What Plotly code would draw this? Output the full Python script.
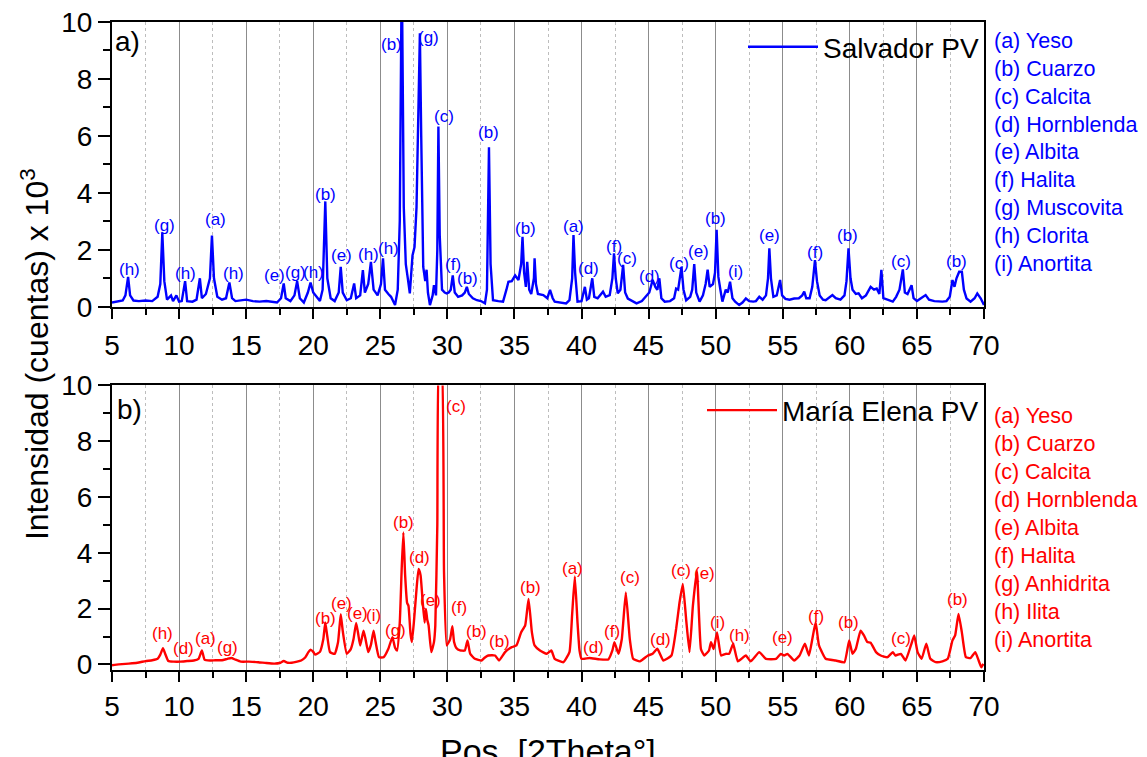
import plotly.graph_objects as go

# ---------------- data ----------------
salvador_x = [5.0, 5.4, 5.8, 6.0, 6.2, 6.35, 6.6, 7.0, 7.5, 8.0, 8.4, 8.6, 8.75, 8.9, 9.1, 9.4, 9.55, 9.8, 10.0, 10.2,
              10.45, 10.6, 11.0, 11.3, 11.55, 11.7, 12.0, 12.3, 12.45, 12.6, 12.85, 13.2, 13.5, 13.75, 13.95, 14.2, 14.5, 15.0, 15.5, 16.0,
              16.5, 17.0, 17.3, 17.6, 17.8, 17.95, 18.3, 18.6, 18.8, 19.0, 19.3, 19.6, 19.8, 20.0, 20.3, 20.5, 20.7, 20.9, 21.05, 21.3,
              21.6, 21.9, 22.05, 22.2, 22.5, 22.8, 23.05, 23.2, 23.5, 23.7, 23.85, 24.1, 24.3, 24.5, 24.8, 25.05, 25.2, 25.35, 25.6, 25.8,
              26.1, 26.3, 26.45, 26.6, 26.75, 26.9, 27.05, 27.2, 27.4, 27.55, 27.7, 27.85, 27.95, 28.05, 28.2, 28.35, 28.45, 28.55, 28.7, 28.9,
              29.0, 29.15, 29.25, 29.33, 29.43, 29.6, 29.8, 29.95, 30.1, 30.25, 30.4, 30.55, 30.8, 31.1, 31.3, 31.45, 31.6, 31.9, 32.2, 32.5,
              32.8, 32.95, 33.1, 33.22, 33.4, 33.8, 34.15, 34.4, 34.55, 34.8, 35.05, 35.3, 35.5, 35.6, 35.72, 35.85, 35.95, 36.1, 36.25, 36.45,
              36.5, 36.6, 36.75, 37.15, 37.45, 37.65, 37.85, 38.0, 38.4, 38.85, 39.1, 39.3, 39.4, 39.52, 39.7, 40.0, 40.25, 40.4, 40.55, 40.8,
              40.95, 41.2, 41.6, 41.8, 42.1, 42.3, 42.42, 42.55, 42.7, 42.9, 43.1, 43.25, 43.45, 43.8, 44.1, 44.5, 44.8, 45.05, 45.3, 45.5,
              45.65, 45.8, 45.95, 46.2, 46.6, 46.9, 47.05, 47.2, 47.45, 47.6, 47.8, 48.1, 48.25, 48.4, 48.55, 48.8, 49.05, 49.25, 49.4, 49.55,
              49.8, 49.95, 50.07, 50.2, 50.35, 50.5, 50.75, 50.9, 51.07, 51.25, 51.45, 51.75, 52.0, 52.25, 52.5, 52.8, 53.0, 53.25, 53.5, 53.75,
              53.9, 54.0, 54.12, 54.3, 54.55, 54.8, 54.95, 55.2, 55.5, 55.85, 56.2, 56.45, 56.6, 56.75, 57.0, 57.2, 57.4, 57.55, 57.75, 58.0,
              58.2, 58.5, 58.7, 58.95, 59.3, 59.6, 59.75, 59.9, 60.05, 60.2, 60.45, 60.65, 60.9, 61.2, 61.55, 61.8, 62.0, 62.2, 62.35, 62.5,
              62.8, 63.2, 63.45, 63.7, 63.95, 64.1, 64.3, 64.5, 64.6, 64.75, 65.0, 65.3, 65.65, 65.9, 66.3, 66.9, 67.2, 67.45, 67.65, 67.8,
              67.95, 68.15, 68.35, 68.5, 68.7, 69.0, 69.3, 69.5, 69.75, 70.0]
salvador_y = [0.15, 0.18, 0.22, 0.4, 1.05, 0.4, 0.22, 0.2, 0.22, 0.2, 0.35, 0.8, 2.6, 0.9, 0.25, 0.4, 0.2, 0.4, 0.18, 0.2,
              0.9, 0.2, 0.18, 0.25, 1.0, 0.3, 0.45, 1.0, 2.5, 1.0, 0.35, 0.25, 0.3, 0.85, 0.3, 0.2, 0.22, 0.25, 0.2, 0.18,
              0.2, 0.18, 0.15, 0.3, 0.82, 0.3, 0.2, 0.4, 0.9, 0.3, 0.15, 0.5, 0.85, 0.5, 0.3, 0.2, 0.6, 3.7, 1.0, 0.3,
              0.2, 0.5, 1.4, 0.5, 0.23, 0.3, 0.82, 0.3, 0.4, 1.29, 0.5, 0.8, 1.58, 0.6, 0.4, 0.8, 1.7, 0.6, 0.45, 0.35,
              0.06, 0.6, 3.0, 12.0, 3.5, 1.5, 1.0, 0.47, 1.8, 2.1, 3.5, 8.0, 9.6, 6.0, 1.4, 0.9, 1.3, 0.5, 0.06, 0.4,
              0.76, 0.4, 2.0, 6.33, 2.5, 0.6, 0.5, 0.47, 0.5, 0.6, 1.1, 0.5, 0.35, 0.4, 0.5, 0.7, 0.45, 0.3, 0.23, 0.2,
              0.12, 0.6, 5.6, 1.5, 0.23, 0.2, 0.18, 0.6, 0.88, 0.9, 1.1, 0.94, 1.5, 2.46, 1.2, 0.7, 1.58, 0.6, 0.45, 1.0,
              1.7, 0.8, 0.45, 0.41, 0.3, 0.59, 0.3, 0.18, 0.15, 0.12, 0.23, 1.0, 2.52, 1.2, 0.18, 0.2, 0.7, 0.25, 0.3, 1.0,
              0.35, 0.3, 0.53, 0.35, 0.41, 1.0, 1.88, 1.0, 0.47, 0.6, 1.47, 0.5, 0.29, 0.2, 0.12, 0.2, 0.35, 0.5, 0.94, 0.7,
              0.6, 1.0, 0.3, 0.18, 0.2, 0.3, 0.64, 0.6, 1.4, 0.6, 0.23, 0.35, 0.6, 1.5, 0.5, 0.18, 0.4, 0.8, 1.3, 0.7,
              0.8, 1.2, 2.7, 1.05, 0.6, 0.18, 0.6, 0.5, 0.88, 0.3, 0.18, 0.06, 0.15, 0.29, 0.2, 0.18, 0.2, 0.35, 0.25, 0.4,
              1.0, 2.05, 1.0, 0.35, 0.4, 0.94, 0.4, 0.28, 0.25, 0.29, 0.3, 0.4, 0.53, 0.3, 0.3, 0.7, 1.64, 0.9, 0.4, 0.25,
              0.23, 0.35, 0.41, 0.3, 0.25, 0.4, 0.9, 2.05, 1.0, 0.6, 0.45, 0.47, 0.3, 0.4, 0.7, 0.6, 0.64, 0.45, 1.3, 0.3,
              0.25, 0.18, 0.35, 0.6, 1.31, 0.5, 0.45, 0.7, 0.76, 0.3, 0.2, 0.3, 0.41, 0.25, 0.2, 0.18, 0.2, 0.35, 0.94, 0.7,
              1.0, 1.23, 1.23, 0.6, 0.29, 0.18, 0.3, 0.47, 0.3, 0.06]

maria_x = [5.0, 5.5, 6.0, 6.5, 7.0, 7.5, 8.0, 8.4, 8.6, 8.8, 8.95, 9.2, 9.6, 10.1, 10.6, 11.1, 11.45, 11.7, 11.9, 12.3,
           12.7, 13.2, 13.6, 13.9, 14.2, 14.6, 15.2, 15.9, 16.5, 17.1, 17.5, 17.8, 18.1, 18.4, 18.8, 19.1, 19.4, 19.65, 19.8, 20.0,
           20.15, 20.5, 20.75, 20.9, 21.05, 21.25, 21.6, 21.85, 22.05, 22.2, 22.5, 22.8, 23.0, 23.2, 23.35, 23.5, 23.75, 23.9, 24.1, 24.3,
           24.5, 24.65, 24.9, 25.25, 25.6, 25.9, 26.1, 26.25, 26.45, 26.6, 26.72, 26.85, 27.0, 27.1, 27.25, 27.35, 27.5, 27.7, 27.85, 28.0,
           28.15, 28.3, 28.4, 28.5, 28.6, 28.8, 29.0, 29.1, 29.25, 29.4, 29.55, 29.75, 29.95, 30.2, 30.37, 30.5, 30.65, 30.95, 31.3, 31.5,
           31.7, 32.05, 32.55, 32.8, 33.05, 33.55, 33.85, 34.3, 34.8, 35.15, 35.5, 35.8, 36.05, 36.3, 36.5, 36.9, 37.4, 37.75, 38.0, 38.65,
           39.1, 39.3, 39.5, 39.7, 39.85, 40.0, 40.6, 41.35, 42.0, 42.3, 42.45, 42.75, 43.0, 43.3, 43.6, 43.85, 44.35, 44.95, 45.3, 45.65,
           46.1, 46.7, 47.05, 47.3, 47.55, 47.8, 48.05, 48.3, 48.6, 48.9, 49.15, 49.5, 49.65, 49.85, 50.1, 50.4, 50.75, 51.0, 51.3, 51.65,
           52.25, 52.6, 53.25, 53.75, 54.5, 54.85, 55.1, 55.35, 55.85, 56.25, 56.65, 56.95, 57.2, 57.45, 57.7, 58.2, 58.95, 59.6, 59.95, 60.2,
           60.45, 60.8, 61.05, 61.3, 61.55, 61.95, 62.3, 62.8, 63.2, 63.4, 63.8, 64.15, 64.55, 64.8, 65.05, 65.35, 65.7, 66.0, 66.4, 66.9,
           67.3, 67.65, 67.85, 68.1, 68.35, 68.65, 69.0, 69.35, 69.6, 69.8, 69.95]
maria_y = [-0.03, 0.0, 0.02, 0.04, 0.07, 0.12, 0.15, 0.2, 0.35, 0.58, 0.4, 0.12, 0.1, 0.1, 0.12, 0.14, 0.2, 0.5, 0.17, 0.14,
           0.15, 0.15, 0.2, 0.23, 0.17, 0.1, 0.1, 0.08, 0.05, 0.03, 0.05, 0.12, 0.06, 0.06, 0.1, 0.14, 0.25, 0.45, 0.53, 0.45,
           0.35, 0.45, 0.9, 1.5, 1.0, 0.44, 0.38, 0.8, 1.8, 1.2, 0.38, 0.55, 0.9, 1.49, 1.1, 0.68, 1.21, 0.9, 0.44, 0.7,
           1.21, 0.8, 0.26, 0.26, 0.56, 0.98, 0.6, 0.5, 1.5, 3.5, 4.73, 3.2, 2.2, 2.1, 1.1, 0.8, 1.5, 2.7, 3.42, 3.2,
           2.3, 1.5, 1.99, 1.6, 1.4, 0.44, 0.8, 1.39, 5.0, 11.0, 11.0, 3.3, 0.68, 0.9, 1.37, 0.8, 0.6, 0.5, 0.5, 0.86,
           0.38, 0.2, 0.14, 0.25, 0.32, 0.32, 0.14, 0.44, 0.62, 0.68, 1.15, 1.4, 2.35, 1.15, 0.68, 0.5, 0.38, 0.5, 0.2, 0.08,
           0.44, 1.8, 3.15, 1.5, 0.5, 0.2, 0.23, 0.18, 0.18, 0.5, 0.8, 0.38, 0.9, 2.58, 0.9, 0.2, 0.11, 0.32, 0.38, 0.56,
           0.14, 0.32, 1.27, 2.2, 2.88, 1.6, 0.44, 2.1, 3.35, 0.55, 0.32, 0.5, 0.8, 0.55, 1.15, 0.32, 0.38, 0.38, 0.74, 0.11,
           0.32, 0.11, 0.44, 0.2, 0.2, 0.38, 0.32, 0.38, 0.14, 0.32, 0.74, 0.32, 0.9, 1.51, 0.68, 0.2, 0.14, 0.08, 0.86, 0.38,
           0.56, 1.21, 1.04, 0.8, 0.78, 0.44, 0.32, 0.26, 0.44, 0.32, 0.38, 0.14, 0.68, 1.04, 0.44, 0.2, 0.74, 0.2, 0.08, 0.11,
           0.2, 0.86, 1.04, 1.81, 1.15, 0.26, 0.23, 0.44, 0.14, -0.1, 0.02]

top_label_x = [6.33, 8.88, 10.5, 12.7, 14.05, 17.1, 18.7, 20.0, 20.9, 22.1, 24.1, 25.6, 25.8, 28.6, 29.75, 30.45, 31.5, 33.1,
               35.85, 39.4, 40.5, 42.45, 43.4, 45.1, 47.3, 48.7, 50.0, 51.45, 54.0, 57.4, 59.8, 63.8, 67.95]
top_label_y = [1.31, 2.87, 1.17, 3.05, 1.17, 1.11, 1.2, 1.2, 3.95, 1.79, 1.85, 2.05, 9.2, 9.44, 6.68, 1.47, 1.0, 6.12,
               2.75, 2.81, 1.35, 2.13, 1.7, 1.08, 1.52, 1.95, 3.1, 1.23, 2.52, 1.91, 2.52, 1.58, 1.58]
top_label_t = ['(h)', '(g)', '(h)', '(a)', '(h)', '(e)', '(g)', '(h)', '(b)', '(e)', '(h)', '(h)', '(b)', '(g)', '(c)', '(f)', '(b)', '(b)',
               '(b)', '(a)', '(d)', '(f)', '(c)', '(d)', '(c)', '(e)', '(b)', '(i)', '(e)', '(f)', '(b)', '(c)', '(b)']

bot_label_x = [8.75, 10.3, 11.95, 13.6, 20.9, 22.1, 23.3, 24.5, 26.1, 26.75, 27.95, 28.75, 30.65, 30.9, 32.2, 33.9, 36.2,
               39.35, 40.9, 42.25, 43.6, 45.85, 47.45, 49.2, 50.1, 51.75, 55.0, 57.5, 59.9, 63.8, 68.0]
bot_label_y = [1.1, 0.58, 0.92, 0.62, 1.63, 2.17, 1.81, 1.75, 1.21, 5.08, 3.83, 2.29, 9.25, 2.05, 1.18, 0.82, 2.76,
               3.42, 0.62, 1.18, 3.12, 0.88, 3.36, 3.26, 1.51, 1.04, 0.98, 1.71, 1.51, 0.94, 2.31]
bot_label_t = ['(h)', '(d)', '(a)', '(g)', '(b)', '(e)', '(e)', '(i)', '(g)', '(b)', '(d)', '(e)', '(c)', '(f)', '(b)', '(b)', '(b)',
               '(a)', '(d)', '(f)', '(c)', '(d)', '(c)', '(e)', '(i)', '(h)', '(e)', '(f)', '(b)', '(c)', '(b)']

top_phases = ['(a) Yeso', '(b) Cuarzo', '(c) Calcita', '(d) Hornblenda', '(e) Albita', '(f) Halita',
              '(g) Muscovita', '(h) Clorita', '(i) Anortita']
bot_phases = ['(a) Yeso', '(b) Cuarzo', '(c) Calcita', '(d) Hornblenda', '(e) Albita', '(f) Halita',
              '(g) Anhidrita', '(h) Ilita', '(i) Anortita']

x_ticks = [5, 10, 15, 20, 25, 30, 35, 40, 45, 50, 55, 60, 65, 70]
y_ticks = [0, 2, 4, 6, 8, 10]

# ---------------- layout geometry (pixels) ----------------
W, H = 1147, 757
L, R = 111.7, 984.5
T, B = 22.0, 670.5
TOP_BOTTOM_PX = 307.0
BOT_TOP_PX = 385.7


def px2x(px):
    return (px - L) / (R - L)


def py2y(py):
    return (B - py) / (B - T)


FONT = 'Liberation Sans, Arial, sans-serif'
BLUE = '#0000FF'
RED = '#FF0000'

fig = go.Figure()
fig.add_trace(go.Scatter(x=salvador_x, y=salvador_y, mode='lines', name='Salvador PV',
                         line=dict(color=BLUE, width=2.4), xaxis='x', yaxis='y', legend='legend'))
fig.add_trace(go.Scatter(x=maria_x, y=maria_y, mode='lines', name='María Elena PV',
                         line=dict(color=RED, width=2.4, shape='spline', smoothing=0.4),
                         xaxis='x2', yaxis='y2', legend='legend2'))


def xaxis_cfg(anchor, standoff):
    return dict(range=[5, 70], tickvals=x_ticks, ticktext=[str(v) for v in x_ticks],
                anchor=anchor, domain=[0, 1], showline=True, linecolor='black', linewidth=2, mirror=True,
                ticks='outside', ticklen=10, tickwidth=2, tickcolor='black',
                tickfont=dict(family=FONT, size=28, color='black'), ticklabelstandoff=standoff,
                showgrid=True, gridcolor='#8c8c8c', gridwidth=1, zeroline=False,
                minor=dict(dtick=2.5, tick0=5, ticks='outside', ticklen=6, tickwidth=2, tickcolor='black',
                           showgrid=True, gridcolor='#bdbdbd', gridwidth=1, griddash='3px,3px'))


def yaxis_cfg(anchor, rng, domain):
    return dict(range=rng, tickvals=y_ticks, ticktext=[str(v) for v in y_ticks], anchor=anchor, domain=domain,
                showline=True, linecolor='black', linewidth=2, mirror=True,
                ticks='outside', ticklen=12, tickwidth=2, tickcolor='black',
                tickfont=dict(family=FONT, size=28, color='black'),
                showgrid=False, zeroline=False,
                minor=dict(dtick=1, tick0=0, ticks='outside', ticklen=7, tickwidth=2, tickcolor='black', showgrid=False))


annotations = []
for xv, yv, t in zip(top_label_x, top_label_y, top_label_t):
    annotations.append(dict(x=xv, y=yv, xref='x', yref='y', text=t, showarrow=False,
                            font=dict(family=FONT, size=17, color=BLUE), xanchor='center', yanchor='middle'))
for xv, yv, t in zip(bot_label_x, bot_label_y, bot_label_t):
    annotations.append(dict(x=xv, y=yv, xref='x2', yref='y2', text=t, showarrow=False,
                            font=dict(family=FONT, size=17, color=RED), xanchor='center', yanchor='middle'))
for i, t in enumerate(top_phases):
    annotations.append(dict(x=px2x(993), y=py2y(41 + i * 27.9), xref='paper', yref='paper', text=t, showarrow=False,
                            font=dict(family=FONT, size=21.5, color=BLUE), xanchor='left', yanchor='middle'))
for i, t in enumerate(bot_phases):
    annotations.append(dict(x=px2x(993), y=py2y(416 + i * 28.0), xref='paper', yref='paper', text=t, showarrow=False,
                            font=dict(family=FONT, size=21.5, color=RED), xanchor='left', yanchor='middle'))
annotations.append(dict(x=px2x(113), y=py2y(42), xref='paper', yref='paper', text='a)', showarrow=False,
                        font=dict(family=FONT, size=28, color='black'), xanchor='left', yanchor='middle'))
annotations.append(dict(x=px2x(115), y=py2y(410), xref='paper', yref='paper', text='b)', showarrow=False,
                        font=dict(family=FONT, size=28, color='black'), xanchor='left', yanchor='middle'))
annotations.append(dict(x=px2x(34), y=py2y(354), xref='paper', yref='paper',
                        text='Intensidad (cuentas) x 10<sup>3</sup>', textangle=-90, showarrow=False,
                        font=dict(family=FONT, size=32, color='black'), xanchor='center', yanchor='middle'))
annotations.append(dict(x=px2x(548), y=py2y(752), xref='paper', yref='paper', text='Pos. [2Theta°]', showarrow=False,
                        font=dict(family=FONT, size=34, color='black'), xanchor='center', yanchor='middle'))

legend_common = dict(xref='paper', yref='paper', xanchor='right', yanchor='top', bgcolor='rgba(0,0,0,0)',
                     borderwidth=0, font=dict(family=FONT, size=28, color='black'), itemwidth=70)

fig.update_layout(
    width=W, height=H,
    margin=dict(l=L, r=W - R, t=T, b=H - B, autoexpand=False),
    paper_bgcolor='white', plot_bgcolor='white',
    xaxis=xaxis_cfg('y', 3),
    yaxis=yaxis_cfg('x', [0, 10], [py2y(TOP_BOTTOM_PX), 1.0]),
    xaxis2=xaxis_cfg('y2', 0),
    yaxis2=yaxis_cfg('x2', [-0.2, 10], [0.0, py2y(BOT_TOP_PX)]),
    legend=dict(x=1.0, y=1.0, **legend_common),
    legend2=dict(x=1.0, y=py2y(BOT_TOP_PX), **legend_common),
    annotations=annotations,
    showlegend=True,
)

fig.write_html('out.html')
